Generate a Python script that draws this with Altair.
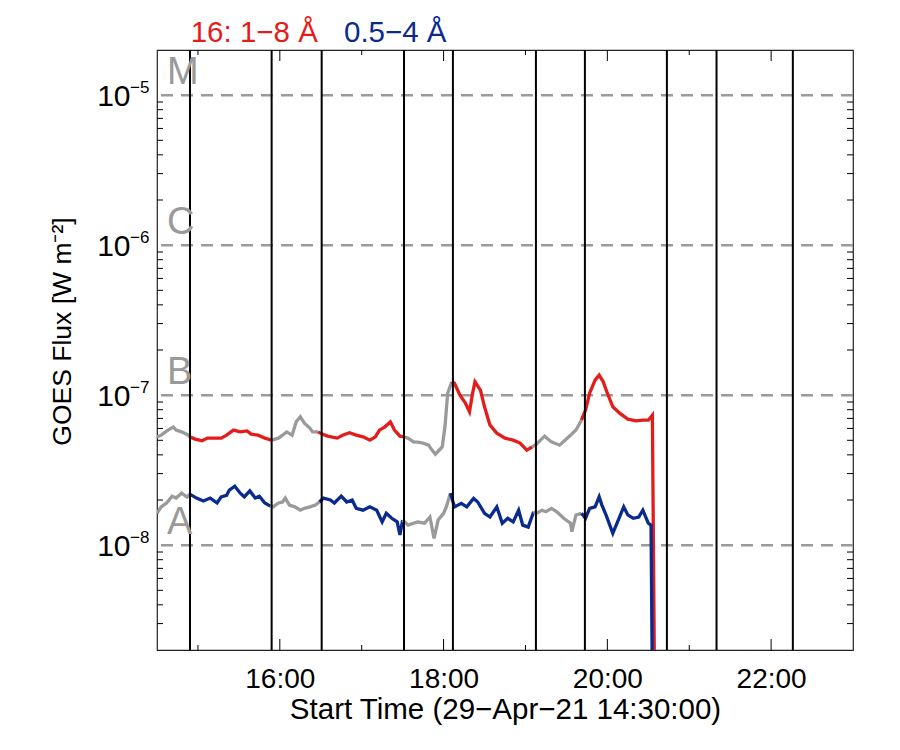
import altair as alt
import pandas as pd

DAY = "2021-04-29"

# GOES-16 1-8 Å flux, in units of 1e-8 W m^-2
long_times = ["14:30", "14:33", "14:38", "14:42", "14:44", "14:48", "14:53", "14:54", "14:58", "15:03",
              "15:07", "15:12", "15:17", "15:21", "15:26", "15:31", "15:36", "15:39", "15:44", "15:49",
              "15:54", "15:59", "16:02", "16:05", "16:09", "16:12", "16:15", "16:18", "16:22", "16:24",
              "16:28", "16:31", "16:35", "16:42", "16:46", "16:51", "16:56", "17:01", "17:06", "17:10",
              "17:13", "17:17", "17:21", "17:24", "17:28", "17:31", "17:34", "17:38", "17:41", "17:45",
              "17:49", "17:51", "17:54", "17:59", "18:01", "18:03", "18:06", "18:08", "18:12", "18:16",
              "18:19", "18:21", "18:23", "18:27", "18:30", "18:34", "18:39", "18:45", "18:51", "18:56",
              "19:01", "19:05", "19:08", "19:14", "19:19", "19:25", "19:33", "19:37", "19:41", "19:44",
              "19:47", "19:51", "19:54", "19:57", "20:00", "20:04", "20:09", "20:15", "20:21", "20:26",
              "20:30", "20:33", "20:35:30"]
long_vals = [5.25, 5.41, 5.85, 6.12, 5.85, 5.69, 5.41, 5.27, 5.09, 4.96,
             5.17, 5.17, 5.17, 5.41, 5.85, 5.69, 5.78, 5.50, 5.41, 5.17,
             5.01, 5.17, 5.41, 5.69, 5.41, 6.64, 7.17, 6.51, 6.03, 5.69,
             5.69, 5.50, 5.33, 5.17, 5.41, 5.61, 5.41, 5.27, 5.01, 5.27,
             5.85, 6.15, 6.64, 5.85, 5.33, 5.27, 5.17, 4.88, 4.86, 4.79,
             4.64, 4.37, 4.04, 4.52, 6.15, 10.3, 12.27, 12.0, 10.0, 8.84,
             7.74, 10.0, 12.27, 10.8, 8.36, 6.31, 5.58, 5.17, 5.01, 4.79,
             4.30, 4.52, 4.71, 5.33, 4.88, 4.64, 5.41, 5.85, 6.81, 7.94,
             10.3, 12.6, 13.6, 12.27, 10.3, 8.36, 7.59, 6.92, 6.74, 6.81,
             6.81, 7.36, 0.01]

# GOES-16 0.5-4 Å flux, in units of 1e-8 W m^-2
short_times = ["14:30", "14:33", "14:37", "14:41", "14:44", "14:48", "14:52", "14:54", "14:59", "15:04",
               "15:09", "15:14", "15:17", "15:21", "15:23", "15:27", "15:31", "15:34", "15:38", "15:42",
               "15:45", "15:49", "15:53", "15:55", "15:59", "16:02", "16:04", "16:07", "16:11", "16:15",
               "16:18", "16:22", "16:26", "16:29", "16:32", "16:37", "16:40", "16:45", "16:49", "16:53",
               "16:56", "17:01", "17:06", "17:11", "17:15", "17:18", "17:22", "17:26", "17:28", "17:30",
               "17:34", "17:38", "17:41", "17:46", "17:50", "17:53", "17:56", "18:00", "18:02", "18:05",
               "18:08", "18:13", "18:17", "18:22", "18:25", "18:30", "18:34", "18:39", "18:43", "18:47",
               "18:51", "18:55", "18:58", "19:02", "19:06", "19:08", "19:12", "19:15", "19:19", "19:23",
               "19:28", "19:33", "19:34", "19:37", "19:41", "19:44", "19:47", "19:51", "19:54", "19:56",
               "19:59", "20:04", "20:08", "20:12", "20:15", "20:19", "20:23", "20:26", "20:30", "20:32",
               "20:34"]
short_vals = [1.63, 1.80, 1.91, 2.12, 2.06, 2.22, 2.09, 2.19, 2.06, 1.97,
              2.06, 1.91, 2.10, 2.15, 2.33, 2.47, 2.22, 2.10, 2.30, 2.06,
              2.12, 1.91, 1.82, 1.80, 1.91, 1.94, 2.06, 1.85, 1.80, 1.71,
              1.76, 1.80, 1.85, 1.94, 2.06, 2.00, 1.91, 2.12, 1.94, 2.00,
              1.76, 1.71, 1.80, 1.71, 1.43, 1.63, 1.51, 1.43, 1.17, 1.47,
              1.36, 1.40, 1.43, 1.40, 1.54, 1.11, 1.47, 1.63, 1.80, 2.22,
              1.80, 1.90, 1.80, 2.05, 1.94, 1.63, 1.54, 1.80, 1.40, 1.51,
              1.43, 1.71, 1.36, 1.32, 1.67, 1.63, 1.71, 1.67, 1.76, 1.67,
              1.51, 1.40, 1.23, 1.59, 1.63, 1.51, 1.76, 1.80, 2.10, 1.85,
              1.59, 1.20, 1.47, 1.80, 1.59, 1.51, 1.54, 1.71, 1.40, 1.36,
              0.01]

# observing intervals (vertical lines)
interval_starts = ["14:54:10", "16:30:40", "18:06:50", "19:43:33", "21:20:00"]
interval_ends = ["15:54:00", "17:31:00", "19:07:40", "20:43:38", "22:15:55"]

# GOES class levels
class_letters = ["A", "B", "C", "M"]
class_levels = [1e-8, 1e-7, 1e-6, 1e-5]
class_exponents = ["\u22128", "\u22127", "\u22126", "\u22125"]

x_major = ["16:00", "18:00", "20:00", "22:00"]
x_minor = ["15:00", "17:00", "19:00", "21:00"]
y_mantissas = [2, 3, 4, 5, 6, 7, 8, 9]
y_decades = [-9, -8, -7, -6, -5]

RED = "#e31d1c"
BLUE = "#0a2a8e"
GREY = "#9a9a9a"
FONT = "Liberation Sans"


def ts(s):
    return pd.Timestamp(f"{DAY} {s}")


def inside(t):
    return any(ts(a) <= t <= ts(b) for a, b in zip(interval_starts, interval_ends))


rows = []
for name, times, vals in [("long", long_times, long_vals), ("short", short_times, short_vals)]:
    tt = [ts(s) for s in times]
    state = [inside(t) for t in tt]
    seg = 0
    for i, (t, v, s) in enumerate(zip(tt, vals, state)):
        kind = f"{name}_{'in' if s else 'out'}"
        if i > 0 and s != state[i - 1]:
            seg += 1
            rows.append(dict(t=tt[i - 1], v=vals[i - 1] * 1e-8, kind=kind, seg=f"{name}{seg}"))
        rows.append(dict(t=t, v=v * 1e-8, kind=kind, seg=f"{name}{seg}"))
df = pd.DataFrame(rows)

W, H = 696, 600

xscale = alt.Scale(domain=[alt.DateTime(year=2021, month=4, date=29, hours=14, minutes=30),
                           alt.DateTime(year=2021, month=4, date=29, hours=23)])
yscale = alt.Scale(type="log", domain=[2e-9, 2e-5])

xaxis = alt.Axis(values=[alt.DateTime(year=2021, month=4, date=29, hours=h) for h in (16, 18, 20, 22)],
                 format="%H:%M", labelFontSize=28, labelBaseline="alphabetic", labelPadding=37,
                 ticks=False, tickSize=0, domain=False, grid=False, labelColor="black",
                 title="Start Time (29\u2212Apr\u221221 14:30:00)", titleFontSize=29.5,
                 titleFontWeight="normal", titleBaseline="alphabetic", titleY=68, titleColor="black",
                 labelFlush=False, labelOverlap=False)
yaxis = alt.Axis(values=class_levels, labelExpr="'10'", labelFontSize=30, labelBaseline="alphabetic",
                 labelOffset=10, labelPadding=27, ticks=False, tickSize=0, domain=False, grid=False,
                 labelColor="black", title="GOES Flux [W m\u207b\u00b2]", titleFontSize=26.5,
                 titleFontWeight="normal", titleAngle=270, titleBaseline="alphabetic",
                 titleAlign="center", titleX=-87, titleY=281, titleColor="black", labelFlush=False)

X = alt.X("t:T", scale=xscale, axis=xaxis)
Y = alt.Y("v:Q", scale=yscale, axis=yaxis)

# horizontal dashed class lines
class_df = pd.DataFrame({"v": class_levels, "letter": class_letters, "exp": class_exponents})
dashed = alt.Chart(class_df).mark_rule(color=GREY, strokeWidth=2.5, strokeDash=[12, 8]).encode(y=Y)
letters = alt.Chart(class_df).mark_text(align="left", baseline="alphabetic", fontSize=38, color=GREY,
                                        dy=-11, font=FONT).encode(y=Y, x=alt.value(10), text="letter:N")
exps = alt.Chart(class_df).mark_text(align="left", baseline="alphabetic", fontSize=17, color="black",
                                     dy=-2, font=FONT).encode(y=Y, x=alt.value(-27), text="exp:N")

lines = alt.Chart(df).mark_line(strokeWidth=3.3, clip=True).encode(
    x=X, y=Y,
    color=alt.Color("kind:N", scale=alt.Scale(domain=["long_in", "long_out", "short_in", "short_out"],
                                              range=[RED, GREY, BLUE, GREY]), legend=None),
    detail="seg:N",
)

vdf = pd.DataFrame({"t": [ts(s) for s in interval_starts + interval_ends]})
vlines = alt.Chart(vdf).mark_rule(color="black", strokeWidth=2).encode(x=X)

xmaj = pd.DataFrame({"t": [ts(s) for s in x_major]})
xmin = pd.DataFrame({"t": [ts(s) for s in x_minor]})
tick_layers = []
for d, ln in [(xmaj, 11), (xmin, 5)]:
    tick_layers.append(alt.Chart(d).mark_rule(color="black", strokeWidth=1).encode(
        x=X, y=alt.value(H - ln), y2=alt.value(H)))
    tick_layers.append(alt.Chart(d).mark_rule(color="black", strokeWidth=1).encode(
        x=X, y=alt.value(0), y2=alt.value(ln)))

ymin_vals = [m * 10.0 ** k for k in y_decades for m in y_mantissas if 2e-9 < m * 10.0 ** k < 2e-5]
ymin = pd.DataFrame({"v": ymin_vals})
for d, ln in [(ymin, 6)]:
    tick_layers.append(alt.Chart(d).mark_rule(color="black", strokeWidth=1).encode(
        y=Y, x=alt.value(0), x2=alt.value(ln)))
    tick_layers.append(alt.Chart(d).mark_rule(color="black", strokeWidth=1).encode(
        y=Y, x=alt.value(W - ln), x2=alt.value(W)))

one = pd.DataFrame({"a": [0]})
leg1 = alt.Chart(one).mark_text(align="left", baseline="alphabetic", fontSize=29.5, color=RED,
                                font=FONT).encode(x=alt.value(33.7), y=alt.value(-8.3),
                                                  text=alt.value("16: 1\u22128 \u00c5"))
leg2 = alt.Chart(one).mark_text(align="left", baseline="alphabetic", fontSize=29.5, color=BLUE,
                                font=FONT).encode(x=alt.value(187), y=alt.value(-8.3),
                                                  text=alt.value("0.5\u22124 \u00c5"))

chart = alt.layer(dashed, *tick_layers, lines, vlines, letters, exps, leg1, leg2).properties(
    width=W, height=H,
    padding={"left": 149, "top": 42, "right": 30, "bottom": 90},
    autosize=alt.AutoSizeParams(type="none"),
).configure(font=FONT).configure_view(stroke="#222222", strokeWidth=1.2)

chart.save("out.html", embed_options={"renderer": "svg", "actions": False})
